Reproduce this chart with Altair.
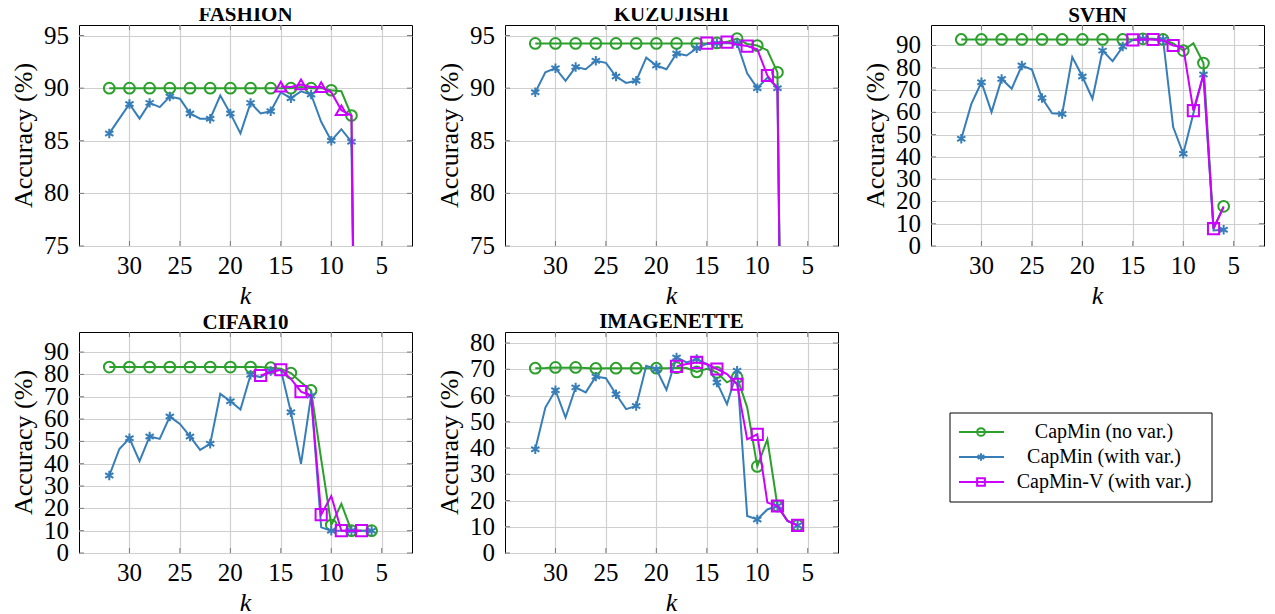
import altair as alt
import pandas as pd

SERIES = ["CapMin (no var.)", "CapMin (with var.)", "CapMin-V (with var.)"]
COLORS = ["#2ca02c", "#377eb8", "#cc00ff"]
ASTERISK = "M0,-1L0,1M-0.866,-0.5L0.866,0.5M-0.866,0.5L0.866,-0.5"
FONT = "Liberation Serif"

# k values (x axis)
K_32_7 = [32, 31, 30, 29, 28, 27, 26, 25, 24, 23, 22, 21, 20, 19, 18, 17, 16, 15, 14, 13, 12, 11, 10, 9, 8, 7]
K_32_6 = [32, 31, 30, 29, 28, 27, 26, 25, 24, 23, 22, 21, 20, 19, 18, 17, 16, 15, 14, 13, 12, 11, 10, 9, 8, 7, 6]
K_15_7 = [15, 14, 13, 12, 11, 10, 9, 8, 7]
K_15_6 = [15, 14, 13, 12, 11, 10, 9, 8, 7, 6]
K_17_7 = [17, 16, 15, 14, 13, 12, 11, 10, 9, 8, 7]
K_18_6 = [18, 17, 16, 15, 14, 13, 12, 11, 10, 9, 8, 7, 6]

# FASHION
F_NOVAR = [90.0, 90.0, 90.0, 90.0, 90.0, 90.0, 90.0, 90.0, 90.0, 90.0, 90.0, 90.0, 90.0,
           90.0, 90.0, 90.0, 90.0, 90.0, 90.0, 90.1, 90.0, 90.0, 89.8, 89.7, 87.4, 10.0]
F_VAR = [85.7, 87.1, 88.5, 87.1, 88.6, 88.2, 89.2, 89.0, 87.6, 87.1, 87.1, 89.3, 87.6,
         85.7, 88.6, 87.6, 87.8, 89.6, 89.05, 89.7, 89.4, 86.8, 85.0, 86.1, 84.9, 10.0]
F_V = [90.15, 90.1, 90.35, 90.1, 90.1, 89.6, 87.9, 87.4, 10.0]

# KUZUJISHI
K_NOVAR = [94.25, 94.25, 94.25, 94.25, 94.25, 94.25, 94.25, 94.25, 94.25, 94.25, 94.25, 94.25, 94.25,
           94.25, 94.25, 94.25, 94.25, 94.25, 94.3, 94.4, 94.7, 94.2, 94.05, 93.6, 91.5, 10.0]
K_VAR = [89.6, 91.5, 91.9, 90.7, 92.0, 91.8, 92.6, 92.4, 91.1, 90.5, 90.7, 92.9, 92.15,
         91.8, 93.3, 93.1, 93.8, 94.2, 94.27, 94.27, 94.27, 91.4, 90.0, 91.0, 90.0, 10.0]
K_V = [94.27, 94.3, 94.37, 94.15, 94.0, 93.7, 91.2, 90.0, 10.0]

# SVHN
S_NOVAR = [92.7, 92.7, 92.7, 92.7, 92.7, 92.7, 92.7, 92.7, 92.7, 92.7, 92.7, 92.7, 92.7, 92.7,
           92.7, 92.7, 92.7, 92.7, 93.0, 93.0, 92.7, 91.0, 87.7, 91.0, 82.1, 8.0, 17.8]
S_VAR = [48.1, 63.8, 73.5, 60.1, 75.0, 70.6, 81.0, 79.2, 66.4, 59.6, 59.3, 84.8, 76.1, 66.1,
         87.7, 83.0, 89.5, 92.5, 93.0, 92.7, 92.7, 53.4, 41.4, 59.5, 77.0, 7.0, 7.3]
S_V = [92.5, 92.7, 92.7, 92.2, 90.0, 89.2, 60.8, 77.0, 7.8, 17.5]

# CIFAR10
C_NOVAR = [83.3, 83.3, 83.3, 83.3, 83.3, 83.3, 83.3, 83.3, 83.3, 83.3, 83.3, 83.3, 83.3, 83.3,
           83.3, 83.3, 83.0, 82.5, 80.6, 76.5, 72.8, 42.0, 12.5, 22.0, 10.0, 10.0, 10.0]
C_VAR = [34.7, 46.6, 51.4, 41.1, 52.2, 51.1, 61.1, 57.8, 52.2, 46.2, 48.9, 71.3, 68.0, 64.3,
         79.8, 78.8, 81.5, 82.1, 63.1, 39.9, 70.5, 11.5, 10.0, 10.0, 10.0, 10.0, 10.0]
C_V = [79.5, 81.0, 82.1, 78.0, 72.3, 70.5, 17.2, 25.5, 10.0, 10.0, 10.0]

# IMAGENETTE
I_NOVAR = [70.4, 70.5, 70.7, 70.6, 70.7, 70.5, 70.3, 70.4, 70.4, 70.4, 70.4, 70.4, 70.4, 70.4,
           70.6, 70.5, 69.0, 70.2, 68.8, 65.0, 66.9, 55.5, 33.0, 43.3, 17.9, 12.2, 10.5]
I_VAR = [39.5, 55.4, 62.0, 51.6, 63.1, 61.2, 67.2, 66.6, 60.5, 54.8, 56.0, 71.3, 70.0, 62.2,
         74.5, 72.6, 73.9, 72.0, 65.0, 56.7, 69.4, 14.1, 12.8, 16.6, 17.9, 12.2, 10.5]
I_V = [71.1, 72.0, 72.6, 72.0, 70.1, 68.2, 64.3, 43.3, 45.2, 19.2, 17.9, 12.2, 10.5]

X_TICKS = [30, 25, 20, 15, 10, 5]
X_TITLE = "k"
Y_TITLE = "Accuracy (%)"

PW, PH = 333, 221
TICK_LEN = 5
TICK_COLOR = "#7a7a7a"


def panel(title, series, ydomain, yticks, v_shape="square"):
    shapes = ["circle", ASTERISK, v_shape]
    sizes = [115, 90, 125]
    x = alt.X("k:Q", scale=alt.Scale(domain=[2, 35], reverse=True, nice=False, zero=False),
              axis=alt.Axis(values=X_TICKS, labels=False, title=""))
    y = alt.Y("acc:Q", scale=alt.Scale(domain=ydomain, nice=False, zero=False),
              axis=alt.Axis(values=yticks, labels=False, title=""))
    layers = []
    # inner tick marks (pgfplots style) on all four sides
    ytk = alt.Chart(pd.DataFrame({"acc": yticks, "lab": [str(v) for v in yticks]}))
    xtk = alt.Chart(pd.DataFrame({"k": X_TICKS, "lab": [str(v) for v in X_TICKS]}))
    layers.append(ytk.mark_rule(color=TICK_COLOR, strokeWidth=1).encode(
        y=y, x=alt.value(0), x2=alt.value(TICK_LEN)))
    layers.append(ytk.mark_rule(color=TICK_COLOR, strokeWidth=1).encode(
        y=y, x=alt.value(PW - TICK_LEN), x2=alt.value(PW)))
    layers.append(xtk.mark_rule(color=TICK_COLOR, strokeWidth=1).encode(
        x=x, y=alt.value(0), y2=alt.value(TICK_LEN)))
    layers.append(xtk.mark_rule(color=TICK_COLOR, strokeWidth=1).encode(
        x=x, y=alt.value(PH - TICK_LEN), y2=alt.value(PH)))
    # tick labels and axis titles as serif text
    layers.append(ytk.mark_text(font=FONT, fontSize=25, align="right", baseline="middle",
                                color="black").encode(y=y, x=alt.value(-10), text="lab:N"))
    layers.append(xtk.mark_text(font=FONT, fontSize=25, align="center", baseline="middle",
                                color="black").encode(x=x, y=alt.value(PH + 20), text="lab:N"))
    one = alt.Chart(pd.DataFrame({"xt": [X_TITLE], "yt": [Y_TITLE]}))
    layers.append(one.mark_text(font=FONT, fontSize=26, fontStyle="italic", align="center",
                                baseline="middle", color="black").encode(
        x=alt.value(PW / 2), y=alt.value(PH + 50), text="xt:N"))
    layers.append(one.mark_text(font=FONT, fontSize=26, angle=270, align="center", baseline="middle",
                                color="black").encode(x=alt.value(-55), y=alt.value(PH / 2), text="yt:N"))
    for i, (ks, vals) in enumerate(series):
        df = pd.DataFrame({"k": ks, "acc": vals, "series": SERIES[i],
                           "marked": [j % 2 == 0 for j in range(len(ks))]})
        base = alt.Chart(df).encode(x=x, y=y)
        layers.append(base.mark_line(color=COLORS[i], strokeWidth=2, clip=True))
        layers.append(base.transform_filter("datum.marked").mark_point(
            shape=shapes[i], color=COLORS[i], filled=False, strokeWidth=2,
            size=sizes[i], opacity=1, clip=True))
    return alt.layer(*layers).properties(
        width=PW, height=PH,
        title=alt.TitleParams(title, font=FONT, fontSize=21, fontWeight="bold", offset=-1, color="black"))


p1 = panel("FASHION", [(K_32_7, F_NOVAR), (K_32_7, F_VAR), (K_15_7, F_V)],
           [75, 96], [75, 80, 85, 90, 95], v_shape="triangle-up")
p2 = panel("KUZUJISHI", [(K_32_7, K_NOVAR), (K_32_7, K_VAR), (K_15_7, K_V)],
           [75, 96], [75, 80, 85, 90, 95])
p3 = panel("SVHN", [(K_32_6, S_NOVAR), (K_32_6, S_VAR), (K_15_6, S_V)],
           [0, 99.2], [0, 10, 20, 30, 40, 50, 60, 70, 80, 90])
p4 = panel("CIFAR10", [(K_32_6, C_NOVAR), (K_32_6, C_VAR), (K_17_7, C_V)],
           [0, 99], [0, 10, 20, 30, 40, 50, 60, 70, 80, 90])
p5 = panel("IMAGENETTE", [(K_32_6, I_NOVAR), (K_32_6, I_VAR), (K_18_6, I_V)],
           [0, 84.2], [0, 10, 20, 30, 40, 50, 60, 70, 80])

# manual legend
leg_df = pd.DataFrame({"series": SERIES})
ly = alt.Y("series:N", scale=alt.Scale(type="point", domain=SERIES, range=[100, 150], padding=0), axis=None)
lc = alt.Color("series:N", scale=alt.Scale(domain=SERIES, range=COLORS), legend=None)
ls = alt.Shape("series:N", scale=alt.Scale(domain=SERIES, range=["circle", ASTERISK, "square"]), legend=None)
leg_base = alt.Chart(leg_df)
leg_rules = leg_base.mark_rule(strokeWidth=2).encode(x=alt.value(96), x2=alt.value(141), y=ly, color=lc)
leg_pts = leg_base.mark_point(filled=False, strokeWidth=2, size=60, opacity=1).encode(
    x=alt.value(118), y=ly, color=lc, shape=ls)
leg_text = leg_base.mark_text(font=FONT, fontSize=20, align="center", baseline="middle", color="black").encode(
    x=alt.value(241), y=ly, text="series:N")
leg_box = alt.Chart(pd.DataFrame({"a": [0]})).mark_rect(fill="white", fillOpacity=0, stroke="black", strokeWidth=1).encode(
    x=alt.value(87), x2=alt.value(349), y=alt.value(81), y2=alt.value(170))
legend = alt.layer(leg_box, leg_rules, leg_pts, leg_text).properties(
    width=360, height=PH,
    title=alt.TitleParams(" ", font=FONT, fontSize=21, fontWeight="bold", offset=-1),
    view=alt.ViewBackground(stroke="transparent"))

row1 = alt.hconcat(p1, p2, p3, spacing=23)
row2 = alt.hconcat(p4, p5, legend, spacing=23)

chart = alt.vconcat(row1, row2, spacing=0).properties(
    padding={"left": 2, "top": -5, "right": 0, "bottom": 0}
).configure(
    font=FONT
).configure_view(
    stroke="black", strokeWidth=1
).configure_axis(
    domain=False, ticks=False, grid=True, gridColor="#cfcfcf", gridWidth=1.2
)

chart.save("out.html", embed_options={"renderer": "svg", "actions": False})
